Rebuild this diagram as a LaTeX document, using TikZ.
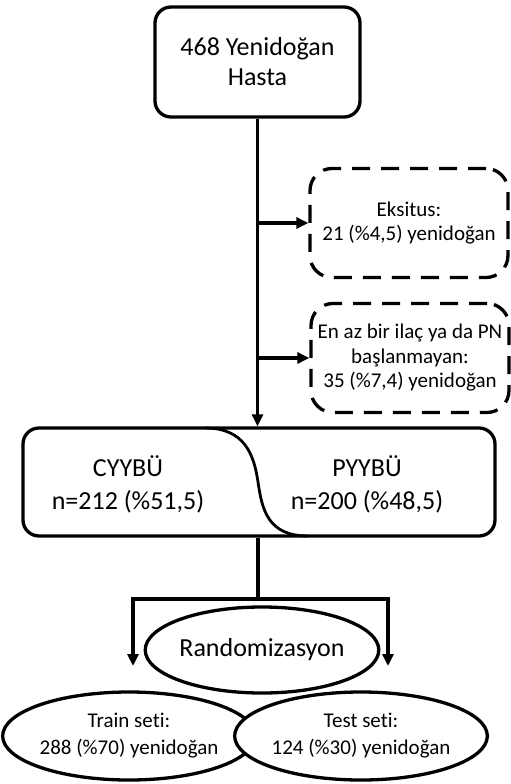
\documentclass[tikz,border=0pt]{standalone}
\usepackage{fontspec}
\setmainfont[Ligatures=NoCommon]{Carlito}
\usetikzlibrary{arrows.meta,shapes.geometric}

\begin{document}
\begin{tikzpicture}[x=1pt,y=-1pt,
    box/.style={draw,line width=3.3pt,rounded corners=16pt,align=center,inner sep=0pt,
      font=\fontsize{26}{30}\selectfont},
    exitbox/.style={draw,line width=3.3pt,dash pattern=on 18pt off 11pt,rounded corners=22pt,
      minimum width=198pt,minimum height=109pt,align=center,inner sep=0pt,
      font=\fontsize{21}{24.5}\selectfont},
    label/.style={align=center,inner sep=0pt,font=\fontsize{26}{33}\selectfont},
    oval/.style={draw,ellipse,line width=3.3pt,fill=white,inner sep=0pt,align=center},
    arrow/.style={line width=3.3pt,-{Triangle[length=12pt,width=11pt]}}]
  \useasboundingbox (0,0) rectangle (511,784);
  \draw
    (257.5,62) node[box,minimum width=205pt,minimum height=110pt] (hasta){468 Yenidoğan\\Hasta}
    (409,223) node[exitbox] (eksitus){Eksitus:\\21 (\%4,5) yenidoğan}
    (410,358) node[exitbox] (pn){En az bir ilaç ya da PN\\başlanmayan:\\35 (\%7,4) yenidoğan}
    (259,482) node[box,minimum width=472pt,minimum height=108pt] (units){}
    (128,484) node[label] (cyybu){CYYBÜ\\n=212 (\%51,5)}
    (367,484) node[label] (pyybu){PYYBÜ\\n=200 (\%48,5)}
    (262,650) node[oval,minimum width=233pt,minimum height=86pt,font=\fontsize{26}{30}\selectfont] (rand){Randomizasyon}
    (129,736) node[oval,minimum width=232pt,minimum height=88pt,font=\fontsize{21}{27}\selectfont] (train){Train seti:\\288 (\%70) yenidoğan}
    (361,736) node[oval,minimum width=228pt,minimum height=88pt,font=\fontsize{21}{27}\selectfont] (test){Test seti:\\124 (\%30) yenidoğan};
  % divider between the two units
  \draw[line width=2.8pt] (205,428) .. controls (245,428) and (254,455) .. (258,482)
    .. controls (262,510) and (268,536) .. (308,536);
  \coordinate (b1) at (hasta.south |- eksitus.west);
  \coordinate (b2) at (hasta.south |- pn.west);
  \coordinate (split) at (258,599);
  \coordinate (ltip) at (133,666);
  \coordinate (rtip) at (388,666);
  \begin{scope}[line width=3.3pt]
    \draw[arrow] (hasta.south) -- (hasta.south |- units.north);
    \draw[arrow] (b1) -- (eksitus.west);
    \draw[arrow] (b2) -- (pn.west);
    \draw (split |- units.south) -- (split);
    \draw[arrow] (split) -| (ltip);
    \draw[arrow] (split) -| (rtip);
  \end{scope}
\end{tikzpicture}
\end{document}
